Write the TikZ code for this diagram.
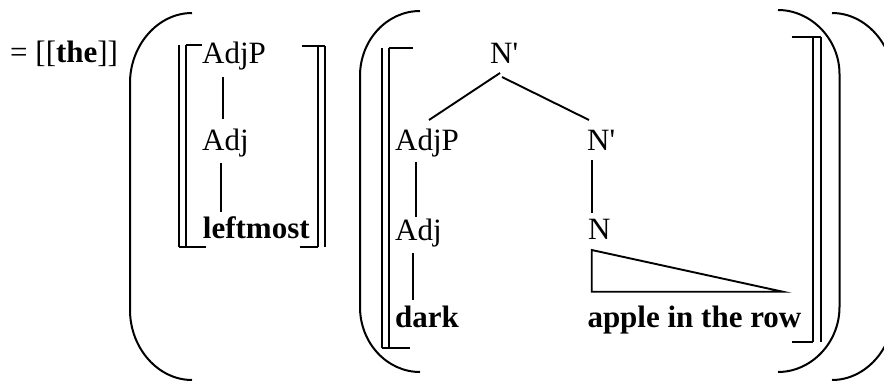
\documentclass[tikz,border=0pt]{standalone}
\usepackage{fontspec}
\setmainfont{Liberation Serif}
\usetikzlibrary{calc}
\begin{document}
\begin{tikzpicture}[x=1pt,y=-1pt,
  lbl/.style={inner sep=0pt, anchor=base west, font=\fontsize{31}{37}\selectfont},
  edge/.style={line width=1.9pt},
  paren/.style={line width=2pt},
  bar/.style={line width=2pt}]
\useasboundingbox (0,0) rectangle (884,383);

% leading equation
\node[lbl] (eq) at (10,62) {= [[\textbf{the}]]};

% first tree: AdjP -> Adj -> leftmost
\node[lbl] (ladjp) at (202,63) {AdjP};
\node[lbl] (ladj) at (202,150.7) {Adj};
\node[lbl] (lword) at (202.7,238) {\textbf{leftmost}};
\draw[edge] ($(ladjp.base west)+(21,14)$) -- ($(ladj.base west)+(21,-31.7)$);
\draw[edge] ($(ladj.base west)+(19,12.3)$) -- ($(lword.base west)+(18.3,-26)$);

% second tree: N' -> AdjP N'
\node[lbl] (top) at (490,63) {N\textquotesingle};
\node[lbl] (radjp) at (395,150) {AdjP};
\node[lbl] (rnbar) at (587,150) {N\textquotesingle};
\node[lbl] (radj) at (395,240) {Adj};
\node[lbl] (rn) at (588,239) {N};
\node[lbl] (dark) at (395,327) {\textbf{dark}};
\node[lbl] (apple) at (587.3,327) {\textbf{apple in the row}};
\draw[edge] ($(top.base west)+(10,10)$) -- ($(radjp.base west)+(34,-30)$);
\draw[edge] ($(top.base west)+(12,14)$) -- ($(rnbar.base west)+(2,-30)$);
\draw[edge] ($(radjp.base west)+(21,12)$) -- ($(radj.base west)+(21,-23)$);
\draw[edge] ($(rnbar.base west)+(4.7,10)$) -- ($(rn.base west)+(3.7,-26)$);
\draw[edge] ($(radj.base west)+(17.7,13)$) -- ($(dark.base west)+(17.7,-27)$);
% triangle over the unanalysed phrase
\draw[edge, line join=miter] ($(rn.base west)+(3.7,11)$)
  -- ($(apple.base west)+(4.4,-35.3)$)
  -- ($(apple.base west)+(195.4,-35.3)$) -- cycle;

% semantic brackets round the first tree
\draw[bar] (186,45) -- (202,45);
\draw[bar] (179,45) -- (179,247);
\draw[bar] (186,45) -- (186,247);
\draw[bar] (179,247) -- (206,247);
\draw[bar] (302,46) -- (324.5,46);
\draw[bar] (317.5,46) -- (317.5,247);
\draw[bar] (324.5,46) -- (324.5,247);
\draw[bar] (300,247) -- (317.5,247);

% semantic brackets round the second tree
\draw[bar] (388.5,48) -- (412.5,48);
\draw[bar] (382,48) -- (382,348);
\draw[bar] (388.5,48) -- (388.5,348);
\draw[bar] (382,348) -- (410,348);
\draw[bar] (791.7,36.7) -- (820.5,36.7);
\draw[bar] (813,36.7) -- (813,342);
\draw[bar] (820.5,36.7) -- (820.5,342);
\draw[bar] (791.7,342) -- (813,342);

% outer parentheses
\draw[paren] (192,13) .. controls (158,13) and (130,45) .. (130,83)
  -- (130,310) .. controls (130,348) and (158,380) .. (192,380);
\draw[paren] (832,13) .. controls (866,13) and (894,45) .. (894,83)
  -- (894,310) .. controls (894,348) and (866,380) .. (832,380);

% inner parentheses
\draw[paren] (420,11) .. controls (387,11) and (360,40) .. (360,76)
  -- (360,307) .. controls (360,343) and (387,372) .. (420,372);
\draw[paren] (778,10) .. controls (811,10) and (839.5,39) .. (839.5,74)
  -- (839.5,307) .. controls (839.5,343) and (811,372) .. (778,372);
\end{tikzpicture}
\end{document}
